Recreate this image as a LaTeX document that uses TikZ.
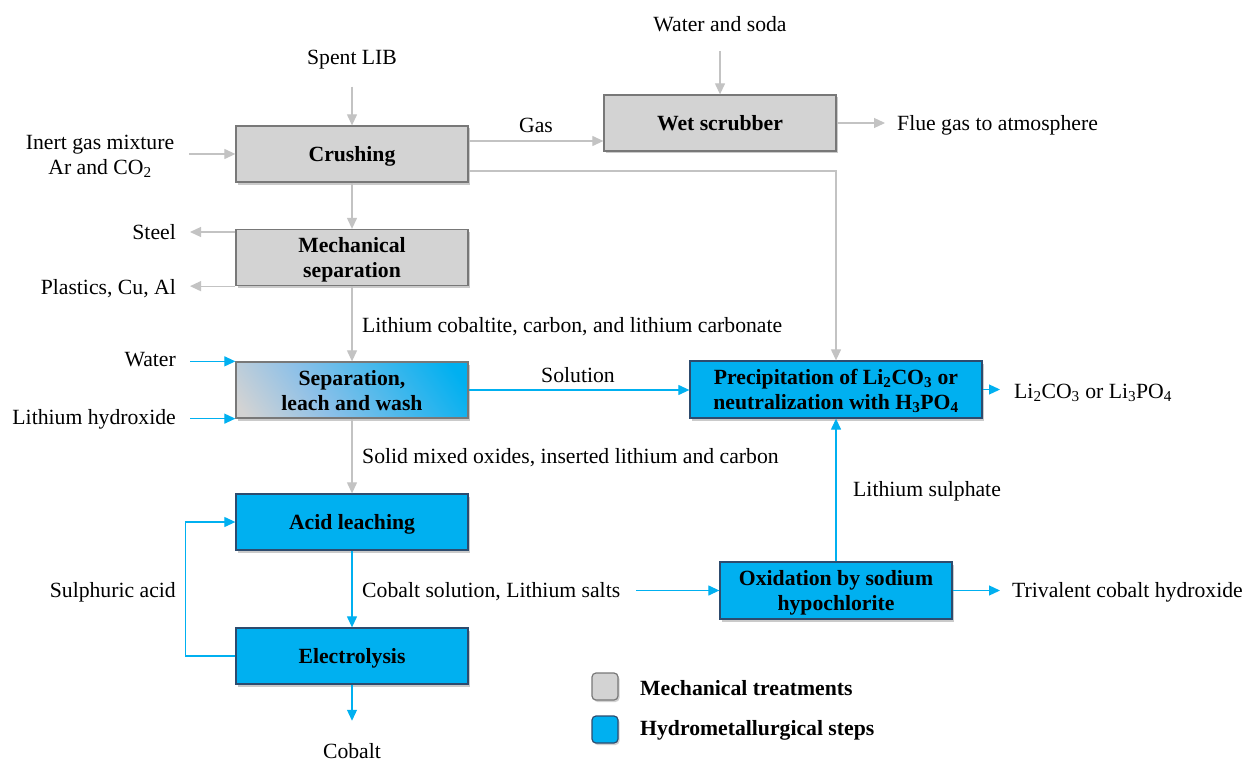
\documentclass[tikz,border=0pt]{standalone}
\usepackage{fontspec}
\setmainfont{Liberation Serif}
\usetikzlibrary{arrows.meta,shadows}

\definecolor{boxgray}{RGB}{211,211,211}
\definecolor{edgegray}{RGB}{120,120,120}
\definecolor{hydro}{RGB}{0,176,240}
\definecolor{sepmid}{RGB}{140,192,232}
\definecolor{edgeblue}{RGB}{45,75,110}
\definecolor{linegray}{RGB}{195,195,195}

% gray-to-blue blend for the combined separation step
\pgfdeclarehorizontalshading{sepshade}{100bp}{color(0bp)=(boxgray); color(18bp)=(boxgray);
  color(40bp)=(sepmid); color(80bp)=(hydro); color(100bp)=(hydro)}

\newcommand\diagfont{\fontsize{21.7}{25}\selectfont}

\tikzset{
  stepbase/.style={line width=1.3pt, minimum width=232pt, minimum height=56pt,
    inner sep=0pt, align=center, font=\diagfont\bfseries, text depth=0pt,
    drop shadow={shadow xshift=2pt, shadow yshift=-2.5pt, opacity=0.35, fill=black!60}},
  mech/.style={stepbase, draw=edgegray, fill=boxgray},
  hyd/.style={stepbase, draw=edgeblue, fill=hydro},
  mixed/.style={stepbase, draw=edgegray, shading=sepshade, shading angle=35},
  lbl/.style={inner sep=0pt, font=\diagfont, align=center},
  tip/.style={-{Triangle[length=11pt,width=10pt]}},
  garrow/.style={draw=linegray, line width=1.2pt, tip},
  barrow/.style={draw=hydro, line width=1.2pt, tip},
  keybox/.style={minimum width=26pt, minimum height=27pt, inner sep=0pt,
    rounded corners=4pt, line width=1.2pt,
    drop shadow={shadow xshift=1.5pt, shadow yshift=-2pt, opacity=0.3, fill=black!60}},
}

\begin{document}
\begin{tikzpicture}[x=1pt, y=-1pt]
\useasboundingbox (0,0) rectangle (1246,762);

% process steps
\node[mech]  (crush) at (352,154)   {Crushing};
\node[mech]  (mech)  at (352,257.5) {Mechanical\\separation};
\node[mixed] (sep)   at (352,390)   {Separation,\\leach and wash};
\node[hyd]   (acid)  at (352,522)   {Acid leaching};
\node[hyd]   (elec)  at (352,656)   {Electrolysis};
\node[mech]  (wet)   at (720,123)   {Wet scrubber};
\node[hyd, minimum width=292pt, minimum height=57pt] (prec) at (836,389.5)
  {Precipitation of Li\textsubscript{2}CO\textsubscript{3} or\\neutralization with H\textsubscript{3}PO\textsubscript{4}};
\node[hyd, minimum height=57pt] (oxid) at (836,590.5) {Oxidation by sodium\\hypochlorite};

% inputs, outputs and stream labels
\node[lbl] (spent) at (352,60) {Spent LIB};
\node[lbl] (soda)  at (720,24) {Water and soda};
\node[lbl] (inert) at (100,156) {Inert gas mixture\\Ar and CO\textsubscript{2}};
\node[lbl, anchor=east] (steel) at (176,232) {Steel};
\node[lbl, anchor=east] (plast) at (176,289) {Plastics, Cu, Al};
\node[lbl, anchor=east] (water) at (176,360) {Water};
\node[lbl, anchor=east] (lioh)  at (176,419) {Lithium hydroxide};
\node[lbl] (gas) at (536,125) {Gas};
\node[lbl, anchor=west] (flue)  at (897,125) {Flue gas to atmosphere};
\node[lbl, anchor=west] (lco)   at (362,327) {Lithium cobaltite, carbon, and lithium carbonate};
\node[lbl] (sol) at (578,375) {Solution};
\node[lbl, anchor=west] (prod)  at (1014,393) {Li\textsubscript{2}CO\textsubscript{3} or Li\textsubscript{3}PO\textsubscript{4}};
\node[lbl, anchor=west] (solid) at (362,458) {Solid mixed oxides, inserted lithium and carbon};
\node[lbl, anchor=west] (lis)   at (853,491) {Lithium sulphate};
\node[lbl, anchor=east] (acidin) at (176,592) {Sulphuric acid};
\node[lbl, anchor=west] (cosol) at (362,592) {Cobalt solution, Lithium salts};
\node[lbl, anchor=west] (tri)   at (1012,592) {Trivalent cobalt hydroxide};
\node[lbl, anchor=base] (cobalt) at (352,758) {Cobalt};

% mechanical streams
\draw[garrow, shorten <=17pt] (spent.south) -- (crush.north);
\draw[garrow, shorten <=19pt] (soda.south) -- (wet.north);
\draw[garrow, shorten <=15pt] (crush.west -| inert.east) -- (crush.west);
\draw[garrow] (crush.south) -- (mech.north);
\draw[garrow, shorten >=14pt] (mech.west |- steel) -- (steel.east);
\draw[garrow, shorten >=14pt] (mech.south west) -- (mech.south west -| plast.east);
\draw[garrow] (mech.south) -- (sep.north);
\draw[garrow] ([yshift=13pt]crush.east) -- ([yshift=13pt]crush.east -| wet.west);
\draw[garrow, shorten >=12pt] (wet.east) -- (wet.east -| flue.west);
\draw[garrow] ([yshift=-17pt]crush.east) -| (prec.north);
\draw[garrow] (sep.south) -- (acid.north);

% hydrometallurgical streams
\draw[barrow, shorten <=14pt] (sep.north west -| water.east) -- (sep.north west);
\draw[barrow, shorten <=14pt] (sep.south west -| lioh.east) -- (sep.south west);
\draw[barrow] (sep.east) -- (sep.east -| prec.west);
\draw[barrow, shorten >=14pt] (prec.east) -- (prec.east -| prod.west);
\draw[barrow] (acid.south) -- (elec.north);
\draw[barrow, shorten >=22pt] (elec.south) -- (cobalt.north);
\draw[barrow] (elec.west) -- ++(-50,0) |- (acid.west);
\draw[barrow, shorten <=16pt] (oxid.west -| cosol.east) -- (oxid.west);
\draw[barrow] (oxid.north) -- (prec.south);
\draw[barrow, shorten >=12pt] (oxid.east) -- (oxid.east -| tri.west);

% legend
\node[keybox, draw=edgegray, fill=boxgray] (keymech) at (605,686.5) {};
\node[keybox, draw=edgeblue, fill=hydro]   (keyhyd)  at (605,729.5) {};
\node[lbl, anchor=west, font=\diagfont\bfseries] (keymechtxt) at (640,688) {Mechanical treatments};
\node[lbl, anchor=west, font=\diagfont\bfseries] (keyhydtxt)  at (640,730) {Hydrometallurgical steps};
\end{tikzpicture}
\end{document}
